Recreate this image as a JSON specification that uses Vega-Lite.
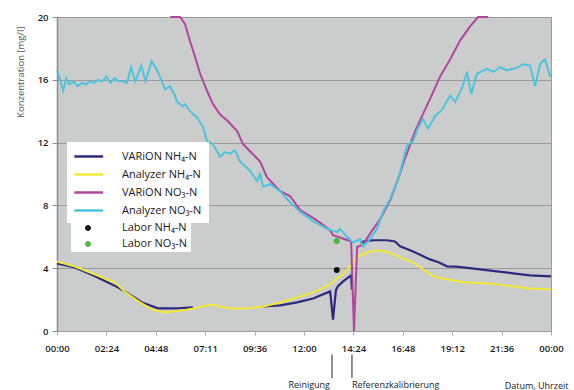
{
  "$schema": "https://vega.github.io/schema/vega-lite/v6.json",
  "width": 494,
  "height": 314,
  "autosize": {"type": "none"},
  "padding": {"left": 57, "top": 17, "right": 23, "bottom": 59},
  "background": "white",
  "config": {
    "view": {"fill": "#cbcdcc", "stroke": "#9c9c9c"},
    "font": "Open Sans",
    "axis": {"labelFont": "Open Sans", "titleFont": "Open Sans"},
    "axisY": {"tickCount": 10}
  },
  "encoding": {
    "x": {
      "field": "h", "type": "quantitative",
      "scale": {"domain": [0, 24], "nice": false},
      "axis": {
        "values": [0, 2.4, 4.8, 7.2, 9.6, 12, 14.4, 16.8, 19.2, 21.6, 24],
        "labelExpr": "['00:00','02:24','04:48','07:11','09:36','12:00','14:24','16:48','19:12','21:36','00:00'][round(datum.value/2.4)]",
        "grid": false, "domain": false,
        "ticks": true, "tickSize": 4, "tickColor": "#aaaaaa",
        "labelFontSize": 9.5, "labelFontWeight": 600, "labelColor": "#1a1a1a",
        "labelPadding": 8, "labelFlush": false,
        "title": "Datum, Uhrzeit", "titleFontSize": 9, "titleFontWeight": "normal", "titleColor": "#222222",
        "titleX": 511, "titleY": 54, "titleAlign": "right", "titleBaseline": "middle"
      }
    }
  },
  "layer": [
    {
      "data": {"values": [
        {"h": 0, "v": 4.3, "seg": 1}, {"h": 0.87, "v": 4.05, "seg": 1}, {"h": 1.85, "v": 3.48, "seg": 1},
        {"h": 2.96, "v": 2.78, "seg": 1}, {"h": 3.45, "v": 2.4, "seg": 1}, {"h": 4.13, "v": 1.82, "seg": 1},
        {"h": 4.91, "v": 1.44, "seg": 1}, {"h": 5.88, "v": 1.44, "seg": 1}, {"h": 6.61, "v": 1.5, "seg": 1},
        {"h": 10.01, "v": 1.56, "seg": 2}, {"h": 10.84, "v": 1.63, "seg": 2}, {"h": 11.66, "v": 1.82, "seg": 2},
        {"h": 12.44, "v": 2.07, "seg": 2}, {"h": 13.27, "v": 2.52, "seg": 2}, {"h": 13.41, "v": 0.73, "seg": 2},
        {"h": 13.55, "v": 2.6, "seg": 2}, {"h": 13.65, "v": 2.85, "seg": 2}, {"h": 13.9, "v": 3.16, "seg": 2},
        {"h": 14.29, "v": 3.54, "seg": 2}, {"h": 14.33, "v": 2.65, "seg": 2},
        {"h": 14.72, "v": 5.65, "seg": 3}, {"h": 14.97, "v": 5.71, "seg": 3}, {"h": 15.35, "v": 5.78, "seg": 3},
        {"h": 16.04, "v": 5.78, "seg": 3}, {"h": 16.42, "v": 5.7, "seg": 3}, {"h": 16.67, "v": 5.39, "seg": 3},
        {"h": 17.3, "v": 5.07, "seg": 3}, {"h": 18.12, "v": 4.56, "seg": 3}, {"h": 18.5, "v": 4.4, "seg": 3},
        {"h": 18.95, "v": 4.12, "seg": 3}, {"h": 19.4, "v": 4.1, "seg": 3}, {"h": 19.73, "v": 4.05, "seg": 3},
        {"h": 20.55, "v": 3.92, "seg": 3}, {"h": 21.38, "v": 3.8, "seg": 3}, {"h": 22.16, "v": 3.67, "seg": 3},
        {"h": 22.98, "v": 3.54, "seg": 3}, {"h": 24, "v": 3.48, "seg": 3}
      ]},
      "mark": {"type": "line", "strokeWidth": 2.2},
      "encoding": {
        "y": {
          "field": "v", "type": "quantitative",
          "scale": {"domain": [0, 20], "nice": false},
          "axis": {
            "values": [0, 2, 4, 6, 8, 10, 12, 14, 16, 18, 20],
            "grid": true, "gridColor": "#9a9a9a", "gridWidth": 1,
            "domain": true, "domainColor": "#8a8a8a", "domainWidth": 1.5,
            "ticks": true, "tickSize": 5, "tickColor": "#8a8a8a",
            "labelFontSize": 9.5, "labelFontWeight": 600, "labelColor": "#1a1a1a", "labelPadding": 4,
            "title": "Konzentration [mg/l]", "titleFontSize": 9.5, "titleFontWeight": "normal", "titleColor": "#555555",
            "titleAngle": -90, "titleX": -37, "titleY": 9, "titleAlign": "right", "titleBaseline": "middle"
          }
        },
        "color": {
          "datum": "VARiON NH₄-N",
          "scale": {
            "domain": ["VARiON NH₄-N", "Analyzer NH₄-N", "VARiON NO₃-N", "Analyzer NO₃-N"],
            "range": ["#2d2a7c", "#f2e838", "#b1469f", "#4ec3dc"]
          },
          "legend": {
            "title": null, "orient": "none", "legendX": 10, "legendY": 125,
            "fillColor": "white", "padding": 7,
            "labelFont": "Open Sans", "labelFontSize": 11, "labelColor": "#1a1a1a",
            "labelOffset": 33, "rowPadding": 5,
            "symbolSize": 144, "symbolStrokeWidth": 2.5, "symbolType": "M-1.2,0H3.6"
          }
        },
        "detail": {"field": "seg", "type": "nominal"}
      }
    },
    {
      "data": {"values": [
        {"h": 0, "v": 4.43}, {"h": 0.87, "v": 4.1}, {"h": 1.85, "v": 3.6}, {"h": 2.82, "v": 3.1},
        {"h": 3.3, "v": 2.5}, {"h": 3.94, "v": 1.9}, {"h": 4.62, "v": 1.37}, {"h": 5.25, "v": 1.18},
        {"h": 6.37, "v": 1.37}, {"h": 7.53, "v": 1.69}, {"h": 7.92, "v": 1.56}, {"h": 8.41, "v": 1.44},
        {"h": 9.23, "v": 1.44}, {"h": 10.01, "v": 1.56}, {"h": 10.84, "v": 1.82}, {"h": 11.66, "v": 2.14},
        {"h": 12.44, "v": 2.46}, {"h": 13.27, "v": 2.97}, {"h": 13.65, "v": 3.41}, {"h": 13.9, "v": 3.6},
        {"h": 14.24, "v": 4.12}, {"h": 14.63, "v": 4.75}, {"h": 15.06, "v": 5.0}, {"h": 15.55, "v": 5.14},
        {"h": 16.18, "v": 4.99}, {"h": 16.67, "v": 4.69}, {"h": 17.3, "v": 4.37}, {"h": 17.78, "v": 3.92},
        {"h": 18.27, "v": 3.48}, {"h": 18.95, "v": 3.29}, {"h": 19.73, "v": 3.1}, {"h": 20.55, "v": 3.05},
        {"h": 21.38, "v": 2.97}, {"h": 22.16, "v": 2.84}, {"h": 22.98, "v": 2.71}, {"h": 24, "v": 2.65}
      ]},
      "mark": {"type": "line", "strokeWidth": 2},
      "encoding": {
        "y": {
          "field": "v", "type": "quantitative",
          "scale": {"domain": [0, 20], "nice": false},
          "axis": {
            "values": [0, 2, 4, 6, 8, 10, 12, 14, 16, 18, 20],
            "grid": true, "gridColor": "#9a9a9a", "gridWidth": 1,
            "domain": true, "domainColor": "#8a8a8a", "domainWidth": 1.5,
            "ticks": true, "tickSize": 5, "tickColor": "#8a8a8a",
            "labelFontSize": 9.5, "labelFontWeight": 600, "labelColor": "#1a1a1a", "labelPadding": 4,
            "title": "Konzentration [mg/l]", "titleFontSize": 9.5, "titleFontWeight": "normal", "titleColor": "#555555",
            "titleAngle": -90, "titleX": -37, "titleY": 9, "titleAlign": "right", "titleBaseline": "middle"
          }
        },
        "color": {"datum": "Analyzer NH₄-N"}
      }
    },
    {
      "data": {"values": [
        {"h": 5.5, "v": 20}, {"h": 5.98, "v": 20}, {"h": 6.22, "v": 19.56}, {"h": 6.46, "v": 18.47},
        {"h": 6.71, "v": 17.45}, {"h": 6.95, "v": 16.4}, {"h": 7.29, "v": 15.3}, {"h": 7.58, "v": 14.45},
        {"h": 7.92, "v": 13.8}, {"h": 8.31, "v": 13.36}, {"h": 8.75, "v": 12.73}, {"h": 9.04, "v": 11.9},
        {"h": 9.38, "v": 11.45}, {"h": 9.86, "v": 10.8}, {"h": 10.2, "v": 9.8}, {"h": 10.84, "v": 8.9},
        {"h": 11.32, "v": 8.6}, {"h": 11.81, "v": 7.7}, {"h": 12.44, "v": 7.2}, {"h": 12.78, "v": 6.9},
        {"h": 13.27, "v": 6.4}, {"h": 13.41, "v": 6.1}, {"h": 14.09, "v": 5.8}, {"h": 14.29, "v": 5.7},
        {"h": 14.43, "v": 0}, {"h": 14.58, "v": 5.35}, {"h": 14.87, "v": 5.5}, {"h": 15.21, "v": 6.2},
        {"h": 15.69, "v": 7.1}, {"h": 16.18, "v": 8.3}, {"h": 16.52, "v": 9.5}, {"h": 16.91, "v": 11.0},
        {"h": 17.4, "v": 12.73}, {"h": 17.88, "v": 14.1}, {"h": 18.27, "v": 15.2}, {"h": 18.61, "v": 16.2},
        {"h": 19.1, "v": 17.3}, {"h": 19.58, "v": 18.5}, {"h": 20.07, "v": 19.4}, {"h": 20.46, "v": 20},
        {"h": 20.94, "v": 20}
      ]},
      "mark": {"type": "line", "strokeWidth": 2},
      "encoding": {
        "y": {
          "field": "v", "type": "quantitative",
          "scale": {"domain": [0, 20], "nice": false},
          "axis": {
            "values": [0, 2, 4, 6, 8, 10, 12, 14, 16, 18, 20],
            "grid": true, "gridColor": "#9a9a9a", "gridWidth": 1,
            "domain": true, "domainColor": "#8a8a8a", "domainWidth": 1.5,
            "ticks": true, "tickSize": 5, "tickColor": "#8a8a8a",
            "labelFontSize": 9.5, "labelFontWeight": 600, "labelColor": "#1a1a1a", "labelPadding": 4,
            "title": "Konzentration [mg/l]", "titleFontSize": 9.5, "titleFontWeight": "normal", "titleColor": "#555555",
            "titleAngle": -90, "titleX": -37, "titleY": 9, "titleAlign": "right", "titleBaseline": "middle"
          }
        },
        "color": {"datum": "VARiON NO₃-N"}
      }
    },
    {
      "data": {"values": [
        {"h": 0, "v": 16.6}, {"h": 0.15, "v": 16.0}, {"h": 0.3, "v": 15.3}, {"h": 0.45, "v": 16.1},
        {"h": 0.6, "v": 15.7}, {"h": 0.8, "v": 15.9}, {"h": 1.0, "v": 15.6}, {"h": 1.2, "v": 15.8},
        {"h": 1.4, "v": 15.7}, {"h": 1.6, "v": 15.9}, {"h": 1.8, "v": 15.8}, {"h": 2.0, "v": 16.0},
        {"h": 2.2, "v": 15.9}, {"h": 2.4, "v": 16.2}, {"h": 2.6, "v": 15.8}, {"h": 2.8, "v": 16.1},
        {"h": 3.0, "v": 15.9}, {"h": 3.2, "v": 15.9}, {"h": 3.4, "v": 15.8}, {"h": 3.6, "v": 16.8},
        {"h": 3.8, "v": 15.9}, {"h": 4.1, "v": 16.9}, {"h": 4.3, "v": 15.9}, {"h": 4.6, "v": 17.2},
        {"h": 4.9, "v": 16.5}, {"h": 5.25, "v": 15.4}, {"h": 5.49, "v": 15.6}, {"h": 5.73, "v": 15.0},
        {"h": 5.83, "v": 14.6}, {"h": 6.12, "v": 14.3}, {"h": 6.22, "v": 14.45}, {"h": 6.46, "v": 14.0},
        {"h": 6.8, "v": 13.6}, {"h": 7.09, "v": 13.0}, {"h": 7.29, "v": 12.1}, {"h": 7.58, "v": 11.9},
        {"h": 7.92, "v": 11.1}, {"h": 8.16, "v": 11.4}, {"h": 8.41, "v": 11.3}, {"h": 8.65, "v": 11.5},
        {"h": 8.89, "v": 10.8}, {"h": 9.38, "v": 10.2}, {"h": 9.72, "v": 9.55}, {"h": 9.86, "v": 10.0},
        {"h": 10.01, "v": 9.2}, {"h": 10.35, "v": 9.35}, {"h": 10.84, "v": 8.9}, {"h": 11.32, "v": 8.2},
        {"h": 11.81, "v": 7.6}, {"h": 12.44, "v": 7.0}, {"h": 13.12, "v": 6.5}, {"h": 13.61, "v": 6.3},
        {"h": 13.75, "v": 6.5}, {"h": 14.09, "v": 6.0}, {"h": 14.38, "v": 5.65}, {"h": 14.72, "v": 5.84},
        {"h": 14.87, "v": 5.4}, {"h": 15.11, "v": 5.7}, {"h": 15.55, "v": 6.5}, {"h": 15.84, "v": 7.6},
        {"h": 16.18, "v": 8.4}, {"h": 16.52, "v": 9.5}, {"h": 16.67, "v": 10.1}, {"h": 17.0, "v": 11.8},
        {"h": 17.3, "v": 12.1}, {"h": 17.49, "v": 12.8}, {"h": 17.78, "v": 13.5}, {"h": 18.03, "v": 12.9},
        {"h": 18.37, "v": 13.7}, {"h": 18.71, "v": 14.1}, {"h": 19.1, "v": 15.0}, {"h": 19.34, "v": 14.6},
        {"h": 19.68, "v": 15.5}, {"h": 19.92, "v": 16.5}, {"h": 20.12, "v": 15.1}, {"h": 20.41, "v": 16.4},
        {"h": 20.89, "v": 16.7}, {"h": 21.2, "v": 16.5}, {"h": 21.53, "v": 16.8}, {"h": 21.85, "v": 16.6},
        {"h": 22.16, "v": 16.7}, {"h": 22.4, "v": 16.8}, {"h": 22.64, "v": 17.0}, {"h": 22.98, "v": 16.9},
        {"h": 23.23, "v": 15.6}, {"h": 23.47, "v": 17.0}, {"h": 23.71, "v": 17.3}, {"h": 23.96, "v": 16.2}
      ]},
      "mark": {"type": "line", "strokeWidth": 2},
      "encoding": {
        "y": {
          "field": "v", "type": "quantitative",
          "scale": {"domain": [0, 20], "nice": false},
          "axis": {
            "values": [0, 2, 4, 6, 8, 10, 12, 14, 16, 18, 20],
            "grid": true, "gridColor": "#9a9a9a", "gridWidth": 1,
            "domain": true, "domainColor": "#8a8a8a", "domainWidth": 1.5,
            "ticks": true, "tickSize": 5, "tickColor": "#8a8a8a",
            "labelFontSize": 9.5, "labelFontWeight": 600, "labelColor": "#1a1a1a", "labelPadding": 4,
            "title": "Konzentration [mg/l]", "titleFontSize": 9.5, "titleFontWeight": "normal", "titleColor": "#555555",
            "titleAngle": -90, "titleX": -37, "titleY": 9, "titleAlign": "right", "titleBaseline": "middle"
          }
        },
        "color": {"datum": "Analyzer NO₃-N"}
      }
    },
    {
      "data": {"values": [
        {"h": 13.59, "v": 3.88, "s": "Labor NH₄-N"},
        {"h": 13.59, "v": 5.73, "s": "Labor NO₃-N"}
      ]},
      "mark": {"type": "point", "filled": true, "opacity": 1, "size": 36, "strokeWidth": 0},
      "encoding": {
        "y": {
          "field": "v", "type": "quantitative",
          "scale": {"domain": [0, 20], "nice": false},
          "axis": {
            "values": [0, 2, 4, 6, 8, 10, 12, 14, 16, 18, 20],
            "grid": true, "gridColor": "#9a9a9a", "gridWidth": 1,
            "domain": true, "domainColor": "#8a8a8a", "domainWidth": 1.5,
            "ticks": true, "tickSize": 5, "tickColor": "#8a8a8a",
            "labelFontSize": 9.5, "labelFontWeight": 600, "labelColor": "#1a1a1a", "labelPadding": 4,
            "title": "Konzentration [mg/l]", "titleFontSize": 9.5, "titleFontWeight": "normal", "titleColor": "#555555",
            "titleAngle": -90, "titleX": -37, "titleY": 9, "titleAlign": "right", "titleBaseline": "middle"
          }
        },
        "fill": {
          "field": "s", "type": "nominal",
          "scale": {"domain": ["Labor NH₄-N", "Labor NO₃-N"], "range": ["#111111", "#4db848"]},
          "legend": {
            "title": null, "orient": "none", "legendX": 14, "legendY": 202,
            "fillColor": "white", "padding": 3,
            "labelFont": "Open Sans", "labelFontSize": 11, "labelColor": "#1a1a1a",
            "labelOffset": 36, "rowPadding": 5,
            "labelExpr": "datum.label + '\u00a0\u00a0\u00a0\u00a0\u00a0\u00a0\u00a0\u00a0\u00a0'",
            "symbolSize": 144, "symbolStrokeWidth": 0, "symbolOpacity": 1,
            "symbolType": "M0.83,0A0.5,0.5,0,1,1,1.83,0A0.5,0.5,0,1,1,0.83,0Z"
          }
        }
      }
    },
    {
      "data": {"values": [
        {"h": 13.36, "label": "Reinigung"},
        {"h": 14.33, "label": "Referenzkalibrierung"}
      ]},
      "mark": {"type": "rule", "color": "#222222", "strokeWidth": 1, "clip": false},
      "encoding": {
        "y": {"datum": -1.5},
        "y2": {"datum": -3.0}
      }
    },
    {
      "data": {"values": [{"h": 13.36, "label": "Reinigung"}]},
      "mark": {"type": "text", "align": "right", "baseline": "middle", "dx": -2, "fontSize": 9, "color": "#222222", "font": "Open Sans", "clip": false},
      "encoding": {
        "y": {"datum": -3.45},
        "text": {"field": "label"}
      }
    },
    {
      "data": {"values": [{"h": 14.33, "label": "Referenzkalibrierung"}]},
      "mark": {"type": "text", "align": "left", "baseline": "middle", "dx": 0, "fontSize": 9, "color": "#222222", "font": "Open Sans", "clip": false},
      "encoding": {
        "y": {"datum": -3.45},
        "text": {"field": "label"}
      }
    }
  ]
}
